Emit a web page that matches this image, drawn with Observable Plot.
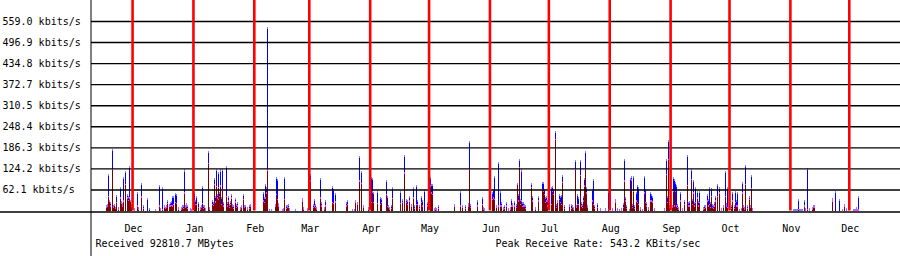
<!DOCTYPE html>
<html><head><meta charset="utf-8">
<script src="https://cdn.jsdelivr.net/npm/d3@7"></script>
<script src="https://cdn.jsdelivr.net/npm/@observablehq/plot@0.6"></script>
<style>
html,body{margin:0;padding:0;background:#fff;}
#chart svg{display:block;}
</style></head><body><div id="chart"></div>
<script>
// Series start (first pixel column of the chart) and span in days
const startDate = new Date(Date.UTC(2004, 10, 10, 2));
const spanDays = 412;

// Day offset (from startDate) of each sample
const dayOffset = [
  7.6,8.1,8.8,9.3,9.7,10.9,11.4,11.9,12.2,12.9,13.6,14.9,15.4,15.8,16.5,17.3,18.2,18.7,19.5,20.0,20.4,
  22.1,23.2,23.8,25.6,26.3,28.7,29.7,32.8,34.6,35.3,36.1,37.0,37.7,38.4,38.9,39.5,40.0,40.6,41.2,41.9,42.8,43.3,44.1,45.8,46.3,46.8,47.3,48.0,48.5,49.0,50.2,50.9,
  52.6,53.1,53.6,54.3,55.3,56.0,56.7,57.2,57.7,58.2,59.7,60.2,61.6,62.1,62.6,63.1,63.5,64.0,64.5,64.8,65.3,65.8,66.4,66.9,67.4,68.9,69.4,69.9,70.4,70.9,71.4,72.0,72.5,73.5,74.0,74.5,75.9,76.5,77.6,78.1,78.6,79.4,80.4,81.1,
  87.6,88.1,88.6,89.3,89.8,90.5,91.8,93.9,94.4,94.9,95.4,97.1,97.9,98.5,99.5,100.0,100.5,101.0,104.1,107.4,108.0,110.2,
  111.7,113.2,113.7,114.2,114.7,116.8,117.3,118.6,119.3,122.7,123.2,124.2,130.0,130.5,133.1,133.8,134.6,135.3,136.6,137.7,138.7,141.2,
  142.7,143.2,143.8,145.8,147.0,147.7,150.0,150.9,151.4,151.9,152.6,153.4,157.5,158.4,159.5,160.2,160.9,161.8,162.8,164.0,164.6,165.5,166.2,167.0,167.9,168.4,169.8,171.1,
  172.6,173.1,173.5,174.5,175.2,175.9,176.9,185.0,187.9,188.9,190.5,192.0,192.7,193.2,196.6,198.9,199.6,200.3,
  204.4,204.9,205.4,206.2,207.4,208.4,209.0,209.8,210.5,211.2,212.2,213.4,213.9,214.4,215.6,216.2,217.1,217.6,218.1,218.6,219.1,219.6,220.2,220.7,221.0,224.1,224.7,226.1,227.8,229.5,230.0,230.5,231.0,231.5,232.0,
  234.1,234.6,235.1,236.3,237.0,237.5,238.5,239.0,239.5,240.0,241.0,243.6,244.4,244.9,245.4,246.5,247.1,247.5,248.0,248.9,249.5,250.2,250.7,251.2,251.7,252.3,252.8,255.3,255.8,256.3,257.9,259.2,261.9,263.3,
  265.5,267.0,268.0,269.1,270.1,271.1,271.6,272.1,272.6,274.1,274.7,275.2,275.7,276.2,276.7,277.7,278.2,278.7,279.7,280.8,281.8,282.3,282.8,283.5,284.8,285.3,285.7,286.9,291.6,293.0,293.5,294.0,294.5,
  296.0,296.5,297.1,297.6,298.1,298.6,299.1,299.9,301.1,302.1,303.5,304.0,304.5,305.7,306.2,306.7,307.2,307.6,308.6,309.1,309.6,311.8,312.3,312.8,313.7,314.4,314.9,315.4,315.7,316.2,316.7,317.4,317.9,318.8,319.8,321.0,321.8,322.8,323.4,323.9,
  325.7,326.4,327.3,328.1,328.6,329.0,330.0,330.8,331.7,332.2,332.7,333.2,334.2,335.3,335.8,336.3,336.8,
  357.5,358.0,358.5,359.0,359.5,360.2,360.7,361.2,361.7,362.2,363.1,363.8,364.8,365.6,367.0,367.7,368.2,377.5,379.0,380.9,382.6,383.6,384.3,
  388.0,388.5,389.0,389.4,389.7,390.3,390.8
];

// Total rate (blue), kbits/s
const totalKbps = [
  15,20,108,32,25,182,15,20,10,46,10,68,27,22,100,118,49,42,130,32,20,
  7,54,10,82,15,36,7,5,76,7,68,15,10,15,32,20,25,27,42,44,52,49,10,10,17,15,121,15,22,15,7,5,
  54,30,44,25,10,17,71,15,15,7,177,10,30,25,97,44,122,49,44,113,54,121,39,122,25,132,25,42,20,27,49,20,15,37,20,25,10,15,49,15,17,10,15,19,
  54,39,79,69,540,5,5,20,99,94,21,5,7,99,15,17,20,7,5,37,10,7,
  108,20,34,20,10,97,25,10,32,71,64,52,25,30,5,5,32,25,160,118,17,10,
  99,97,54,57,40,36,89,44,15,10,15,69,59,34,165,34,30,44,20,69,15,76,30,15,44,30,61,25,
  99,79,79,7,10,7,15,20,57,15,15,22,205,20,30,40,10,7,
  54,64,103,15,143,59,25,10,15,25,7,10,34,22,27,20,82,49,153,34,121,25,25,20,15,82,44,10,44,84,84,64,39,44,30,
  69,71,64,234,20,30,49,42,47,105,15,20,20,15,10,148,15,49,39,148,25,20,44,97,177,69,15,64,94,15,22,7,7,59,
  7,34,7,5,7,22,153,39,15,5,97,103,20,102,15,54,74,69,10,5,103,64,25,10,54,49,44,7,7,153,44,207,15,
  15,99,94,84,74,20,10,54,7,30,163,25,27,123,34,89,25,69,59,27,59,10,15,17,49,34,69,25,66,20,15,25,44,79,69,7,15,118,22,69,
  15,54,15,59,30,54,5,7,84,15,10,133,15,42,15,105,7,
  3,3,3,3,3,35,3,3,3,3,30,7,126,7,10,15,17,37,58,35,5,20,7,
  3,3,3,7,10,3,44
];

// Received rate (dark red), kbits/s
const recvKbps = [
  10,13,44,30,15,123,10,17,7,25,5,39,22,15,30,79,39,32,39,30,15,
  3,15,5,42,7,0,0,0,15,3,5,10,7,12,22,15,15,17,15,20,25,22,5,5,10,7,54,10,15,7,3,3,
  30,20,20,10,5,10,22,7,10,3,141,5,20,17,79,27,72,39,34,69,44,74,20,62,15,44,15,30,10,20,39,15,7,27,10,15,5,10,35,10,13,5,7,15,
  30,25,39,54,122,2,2,13,49,34,15,2,3,34,7,10,10,3,0,30,5,3,
  89,10,15,10,5,39,15,5,15,25,22,27,15,20,2,2,25,20,89,82,10,5,
  25,57,25,22,20,25,49,13,10,5,7,37,22,25,113,25,20,30,15,39,7,20,20,7,25,15,0,15,
  74,54,49,3,5,3,7,13,15,10,7,15,123,10,15,20,5,3,
  34,39,34,10,15,15,15,5,7,15,3,5,15,15,15,10,79,30,128,20,30,13,15,13,7,69,30,5,30,64,59,49,25,30,15,
  20,59,49,212,10,25,34,25,20,84,7,15,7,10,5,123,10,20,20,105,15,10,30,74,123,54,10,30,20,7,10,3,3,5,
  3,27,3,2,3,10,89,30,7,2,64,92,10,59,7,30,25,20,5,2,54,25,15,5,30,30,27,3,3,108,25,153,10,
  10,59,15,59,15,10,5,30,3,20,76,15,15,94,20,54,15,25,39,15,25,5,7,10,30,15,20,10,44,10,7,15,30,44,54,3,10,44,15,10,
  7,30,7,25,15,15,2,3,54,10,5,79,7,35,10,66,3,
  0,0,0,0,0,5,0,0,0,0,15,3,5,3,5,10,10,30,0,0,2,15,3,
  1,1,1,3,5,1,3
];

// Y gridline labels
const yTicks = [62.1, 124.2, 186.3, 248.4, 310.5, 372.7, 434.8, 496.9, 559.0];
const yUnit = "kbits/s";
const yMax = 621;
const receivedText = "Received 92810.7 MBytes";
const peakText = "Peak Receive Rate: 543.2 KBits/sec";

const toDate = d => new Date(+startDate + d * 864e5);
const endDate = toDate(spanDays);
const bars = dayOffset.map((d, i) => ({
  t0: toDate(d), t1: toDate(d + 0.55), total: totalKbps[i], recv: recvKbps[i]
}));
const recvBars = bars.filter(d => d.recv > 0);
const months = d3.utcMonth.range(startDate, endDate);

const tipBlue = 6, tipRed = 4;

const chart = Plot.plot({
  width: 900, height: 256,
  marginLeft: 91, marginRight: 0, marginTop: 0, marginBottom: 45.5,
  x: {type: "utc", domain: [startDate, endDate], axis: null},
  y: {domain: [0, yMax], axis: null},
  style: {fontFamily: "'DejaVu Sans Mono', monospace", fontSize: "10px", background: "#fff", color: "#000"},
  marks: [
    Plot.rect(bars, {x1: "t0", x2: "t1", y1: 0, y2: "total", fill: "#0000ff", shapeRendering: "crispEdges"}),
    Plot.rect(bars, {x1: "t0", x2: "t1", y1: d => Math.max(0, d.total - tipBlue), y2: "total", fill: "#8080ff", shapeRendering: "crispEdges"}),
    Plot.rect(recvBars, {x1: "t0", x2: "t1", y1: 0, y2: "recv", fill: "#7f0000", shapeRendering: "crispEdges"}),
    Plot.rect(recvBars, {x1: "t0", x2: "t1", y1: d => Math.max(0, d.recv - tipRed), y2: "recv", fill: "#ff40ff", shapeRendering: "crispEdges"}),
    Plot.ruleY(yTicks, {stroke: "#000", strokeWidth: 1.4}),
    Plot.ruleX(months, {stroke: "#ff0000", strokeWidth: 2.6}),
    Plot.ruleY([0], {x1: toDate(-50), x2: endDate, stroke: "#000", strokeWidth: 1.5, dy: 1}),
    Plot.ruleX([startDate], {y1: -160, y2: yMax, stroke: "#000", strokeWidth: 1, dx: -0.5}),
    Plot.text(yTicks, {y: d => d, text: d => `${d.toFixed(1)} ${yUnit}`, frameAnchor: "left", textAnchor: "start", dx: -89, fill: "#000"}),
    Plot.text(months, {x: d => d, text: d3.utcFormat("%b"), frameAnchor: "bottom", lineAnchor: "middle", dy: 17.5, dx: 1, fill: "#000"}),
    Plot.text([receivedText], {text: d => d, frameAnchor: "bottom-left", lineAnchor: "middle", textAnchor: "start", dx: 4, dy: 32.5, fill: "#000"}),
    Plot.text([peakText], {text: d => d, frameAnchor: "bottom-left", lineAnchor: "middle", textAnchor: "start", dx: 404, dy: 32.5, fill: "#000"})
  ]
});
document.getElementById("chart").appendChild(chart);
</script>
</body></html>
